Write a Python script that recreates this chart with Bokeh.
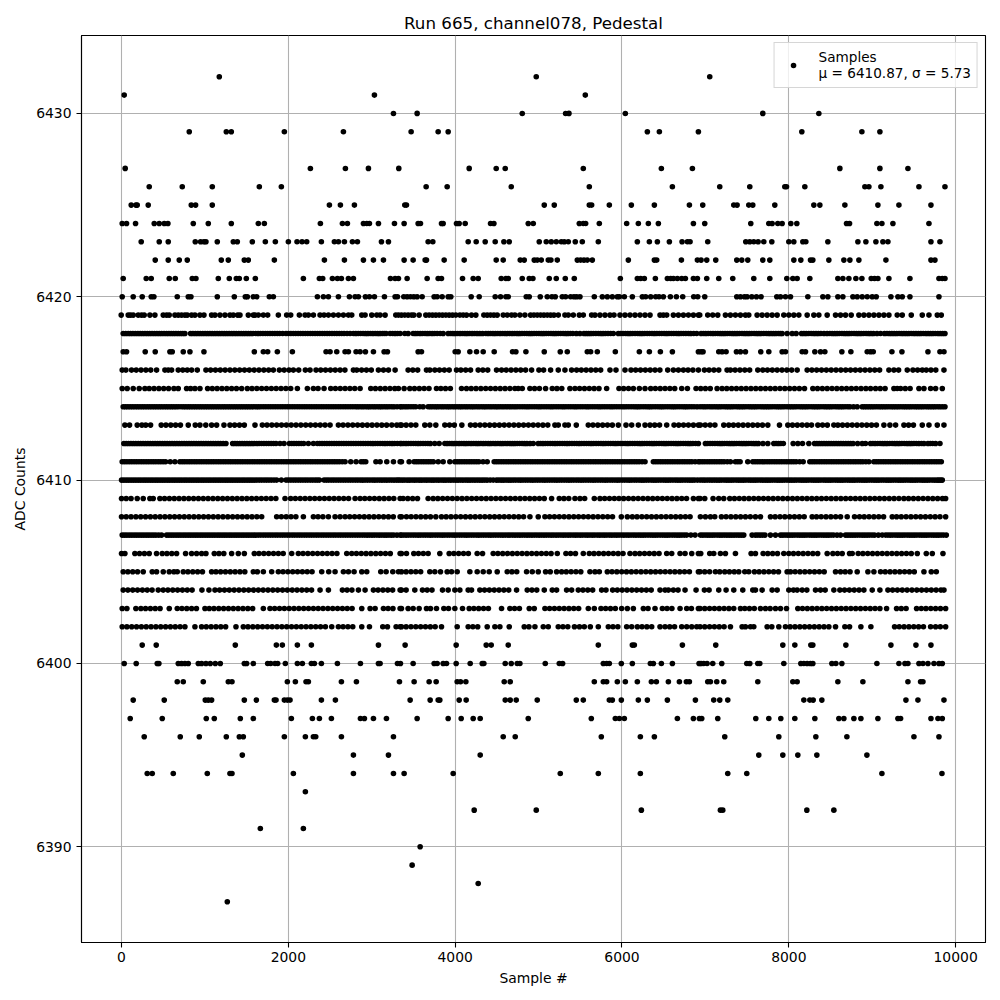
from bokeh.plotting import figure
from bokeh.embed import file_html
from bokeh.resources import INLINE
from bokeh.models import FixedTicker, Legend, LegendItem, ColumnDataSource, Range1d

s6432 = [1172, 4972, 7052]
s6431 = [32, 3032, 5560]
s6430 = [3260, 3544, 4804, 5324, 5364, 6040, 7688, 8360]
s6429 = [812, 1256, 1316, 1952, 2660, 3472, 3796, 3916, 6304, 6448, 6916, 8156, 8876, 9092]
s6427 = [44, 2264, 2684, 2960, 3324, 4168, 4492, 4600, 5536, 6472, 6844, 8612, 9092, 9428]
s6426 = [332, 728, 1088, 1652, 1916, 3652, 3904, 4672, 5608, 6604, 7172, 7532, 7952, 7972, 8192, 8912, 8960, 9104, 9560, 9872]
s6425 = [116, 172, 188, 320, 836, 888, 1088, 2492, 2624, 2792, 3396, 3416, 5068, 5188, 5608, 5636, 5848, 6112, 6388, 6808, 6968, 7340, 7380, 7520, 7568, 7832, 8300, 8372, 8672, 9068, 9320, 9704]
s6424 = [8, 60, 168, 392, 452, 512, 556, 860, 1040, 1316, 1640, 1712, 2384, 2648, 2708, 2900, 2940, 2972, 3080, 3272, 3388, 3556, 3584, 3836, 3856, 4016, 4048, 4120, 4424, 4464, 4876, 4936, 5488, 5536, 5564, 5728, 6056, 6196, 6316, 6436, 6856, 6992, 7544, 7760, 7800, 7868, 7920, 8024, 8096, 8692, 8728, 9056, 9116, 9248, 9680]
s6423 = [236, 452, 560, 884, 948, 988, 1012, 1148, 1340, 1388, 1568, 1724, 1844, 2000, 2104, 2164, 2220, 2396, 2552, 2600, 2672, 2768, 2828, 3116, 3200, 3676, 3732, 4156, 4252, 4360, 4480, 4584, 4648, 5008, 5092, 5152, 5212, 5272, 5308, 5356, 5440, 5524, 5716, 6184, 6328, 6424, 6568, 6720, 6784, 6816, 7028, 7484, 7532, 7580, 7632, 7700, 7796, 8000, 8060, 8168, 8204, 8468, 8828, 8924, 9044, 9128, 9188, 9704, 9812]
s6422 = [404, 560, 692, 788, 1196, 1280, 1472, 1520, 1832, 2432, 2672, 2900, 3020, 3140, 3388, 3496, 3640, 3656, 3868, 4108, 4492, 4576, 4780, 4828, 4948, 4984, 5032, 5116, 5148, 5224, 5464, 5504, 5544, 5584, 5644, 6076, 6388, 6416, 6712, 6904, 6948, 7016, 7124, 7376, 7436, 7508, 7688, 7772, 8060, 8144, 8260, 8288, 8480, 8660, 8732, 8840, 9164, 9704, 9752]
s6421 = [20, 296, 356, 572, 644, 848, 892, 1160, 1292, 1376, 1412, 1496, 1604, 2180, 2372, 2412, 2528, 2588, 2636, 2720, 2780, 3224, 3280, 3320, 3424, 3664, 3796, 3836, 4088, 4216, 4276, 4552, 4608, 4636, 4804, 4888, 4932, 5128, 5212, 5320, 5428, 5980, 6184, 6224, 6268, 6400, 6544, 6584, 6616, 6664, 6716, 6760, 6856, 6904, 7016, 7160, 7328, 7580, 7772, 7976, 8048, 8100, 8252, 8588, 8648, 8720, 8804, 8876, 8988, 9028, 9068, 9200, 9452, 9800, 9840, 9872]
s6420 = [8, 140, 248, 356, 388, 668, 800, 832, 1148, 1352, 1484, 1508, 1580, 1620, 1772, 1820, 2348, 2420, 2480, 2600, 2732, 2800, 2840, 2924, 2972, 3032, 3152, 3280, 3308, 3384, 3424, 3464, 3504, 3544, 3604, 3748, 3784, 3844, 3916, 3948, 4192, 4288, 4480, 4544, 4608, 4636, 4852, 4888, 5020, 5104, 5160, 5200, 5284, 5324, 5384, 5424, 5456, 5496, 5668, 5764, 5824, 5884, 5944, 5968, 6028, 6124, 6244, 6284, 6344, 6404, 6444, 6496, 6580, 6652, 6728, 6860, 6908, 6992, 7376, 7420, 7468, 7500, 7556, 7612, 7668, 7856, 7900, 7960, 8020, 8228, 8408, 8468, 8588, 8648, 8768, 8820, 8880, 8940, 9000, 9048, 9224, 9308, 9360, 9452, 9800]
s6419 = [-4, 80, 108, 140, 200, 240, 272, 340, 400, 500, 540, 572, 640, 680, 720, 760, 788, 840, 880, 940, 988, 1080, 1120, 1180, 1240, 1300, 1340, 1392, 1420, 1520, 1580, 1600, 1640, 1700, 1752, 1880, 1980, 2028, 2132, 2200, 2240, 2300, 2380, 2428, 2480, 2540, 2600, 2660, 2720, 2760, 2880, 2920, 3000, 3060, 3100, 3160, 3288, 3320, 3356, 3396, 3436, 3476, 3504, 3568, 3648, 3688, 3728, 3768, 3808, 3848, 3888, 3928, 3968, 4008, 4056, 4096, 4136, 4196, 4248, 4344, 4384, 4424, 4464, 4504, 4576, 4624, 4676, 4716, 4776, 4836, 4904, 4944, 4984, 5024, 5064, 5104, 5144, 5184, 5236, 5316, 5356, 5416, 5488, 5536, 5636, 5676, 5736, 5796, 5856, 5904, 5976, 6036, 6096, 6156, 6216, 6276, 6336, 6456, 6496, 6536, 6616, 6676, 6736, 6796, 6856, 6916, 6932, 7028, 7088, 7148, 7240, 7300, 7360, 7420, 7480, 7520, 7620, 7680, 7740, 7800, 7860, 7940, 8000, 8060, 8120, 8220, 8300, 8360, 8460, 8560, 8620, 8680, 8748, 8840, 8900, 8960, 9020, 9080, 9140, 9200, 9300, 9360, 9468, 9600, 9680, 9780, 9828]
s6418 = [20, 80, 136, 196, 252, 310, 366, 424, 480, 540, 596, 652, 710, 760, 828, 886, 944, 1002, 1060, 1088, 1146, 1204, 1260, 1320, 1376, 1436, 1492, 1550, 1608, 1666, 1724, 1780, 1838, 1896, 1932, 1972, 2030, 2088, 2146, 2204, 2262, 2320, 2378, 2436, 2494, 2552, 2610, 2668, 2740, 2780, 2838, 2896, 2954, 3012, 3070, 3128, 3172, 3220, 3280, 3340, 3396, 3436, 3496, 3552, 3610, 3668, 3726, 3784, 3856, 3916, 3972, 4030, 4088, 4146, 4204, 4262, 4328, 4368, 4424, 4482, 4540, 4598, 4656, 4714, 4772, 4830, 4888, 4946, 5004, 5062, 5120, 5178, 5236, 5294, 5352, 5410, 5496, 5544, 5600, 5658, 5716, 5774, 5832, 5896, 5956, 6012, 6070, 6128, 6186, 6244, 6302, 6360, 6418, 6476, 6534, 6592, 6650, 6708, 6766, 6824, 6896, 6948, 7004, 7062, 7120, 7178, 7236, 7294, 7352, 7410, 7468, 7526, 7584, 7642, 7700, 7758, 7816, 7874, 7920, 7980, 8040, 8088, 8152, 8210, 8268, 8326, 8384, 8460, 8492, 8550, 8608, 8666, 8724, 8782, 8840, 8898, 8956, 9014, 9100, 9148, 9206, 9264, 9322, 9380, 9438, 9496, 9554, 9612, 9670, 9728, 9786, 9844, 9872]
e6418 = [50, 108, 166, 224, 281, 338, 395, 452, 510, 568, 624, 681, 735, 856, 915, 973, 1031, 1117, 1175, 1232, 1290, 1348, 1406, 1464, 1521, 1579, 1637, 1695, 1752, 1809, 1867, 2001, 2059, 2117, 2175, 2233, 2291, 2349, 2407, 2465, 2523, 2581, 2639, 2704, 2809, 2867, 2925, 2983, 3041, 3099, 3150, 3250, 3310, 3524, 3581, 3639, 3697, 3755, 3820, 3944, 4001, 4059, 4117, 4175, 4233, 4295, 4396, 4453, 4511, 4569, 4627, 4685, 4743, 4801, 4859, 4917, 4975, 5033, 5091, 5149, 5207, 5265, 5323, 5381, 5453, 5572, 5629, 5687, 5745, 5803, 5864, 5984, 6041, 6099, 6157, 6215, 6273, 6331, 6389, 6447, 6505, 6563, 6621, 6679, 6737, 6795, 6860, 6976, 7033, 7091, 7149, 7207, 7265, 7323, 7381, 7439, 7497, 7555, 7613, 7671, 7729, 7787, 7845, 7897, 8181, 8239, 8297, 8355, 8422, 8521, 8579, 8637, 8695, 8753, 8811, 8869, 8927, 8985, 9057, 9177, 9235, 9293, 9351, 9409, 9467, 9525, 9583, 9641, 9699, 9757, 9815]
s6417 = [20, 60, 284, 404, 580, 608, 740, 820, 988, 1592, 1700, 1752, 1868, 2048, 2452, 2500, 2580, 2680, 2720, 2812, 2860, 2924, 3020, 3148, 3188, 3556, 3596, 4000, 4036, 4176, 4256, 4336, 4468, 4688, 4728, 4848, 5068, 5260, 5344, 5584, 5624, 5704, 5920, 6208, 6328, 6460, 6604, 6916, 6948, 6972, 7160, 7200, 7248, 7372, 7420, 7480, 7664, 7760, 7920, 7960, 8160, 8200, 8312, 8380, 8432, 8636, 8744, 8940, 8980, 9012, 9236, 9356, 9668, 9812, 9860]
s6416 = [8, 52, 120, 176, 234, 292, 350, 420, 520, 560, 600, 680, 734, 788, 840, 908, 1012, 1068, 1126, 1184, 1242, 1300, 1358, 1416, 1474, 1532, 1590, 1648, 1706, 1764, 1820, 1892, 1950, 2008, 2060, 2124, 2204, 2260, 2332, 2388, 2446, 2504, 2562, 2620, 2678, 2780, 2820, 2878, 2936, 2994, 3080, 3140, 3200, 3280, 3436, 3492, 3550, 3656, 3696, 3756, 3812, 3870, 3928, 4016, 4068, 4126, 4184, 4276, 4332, 4390, 4496, 4556, 4612, 4670, 4728, 4786, 4844, 4916, 5004, 5060, 5144, 5236, 5316, 5396, 5456, 5512, 5570, 5628, 5686, 5744, 5856, 5928, 6036, 6108, 6164, 6222, 6280, 6338, 6396, 6454, 6548, 6616, 6676, 6736, 6792, 6850, 6916, 6988, 7044, 7102, 7160, 7260, 7300, 7356, 7414, 7472, 7530, 7628, 7688, 7744, 7802, 7860, 7918, 7976, 8034, 8100, 8220, 8276, 8334, 8392, 8450, 8508, 8566, 8624, 8682, 8740, 8798, 8856, 8914, 8972, 9030, 9088, 9200, 9260, 9316, 9420, 9488, 9544, 9600, 9648, 9704, 9762, 9860]
s6415 = [8, 68, 140, 212, 280, 332, 390, 448, 506, 564, 628, 680, 780, 828, 880, 940, 1032, 1088, 1146, 1204, 1262, 1320, 1378, 1440, 1508, 1564, 1622, 1680, 1738, 1796, 1854, 1912, 1970, 2028, 2108, 2228, 2300, 2356, 2428, 2508, 2564, 2622, 2680, 2738, 2796, 2860, 2988, 3044, 3102, 3160, 3218, 3276, 3320, 3388, 3456, 3512, 3570, 3628, 3686, 3776, 3828, 3884, 3942, 4076, 4136, 4192, 4250, 4308, 4366, 4424, 4482, 4540, 4598, 4656, 4716, 4756, 4804, 4896, 4952, 5010, 5084, 5164, 5220, 5278, 5376, 5436, 5492, 5550, 5608, 5666, 5724, 5816, 5964, 6020, 6078, 6136, 6208, 6276, 6344, 6400, 6458, 6516, 6574, 6632, 6716, 6784, 6888, 6944, 7000, 7058, 7140, 7200, 7256, 7314, 7372, 7430, 7488, 7546, 7604, 7662, 7720, 7778, 7836, 7894, 7952, 8010, 8068, 8126, 8188, 8288, 8344, 8402, 8460, 8518, 8576, 8634, 8692, 8750, 8808, 8866, 8924, 8980, 9040, 9096, 9154, 9260, 9300, 9340, 9396, 9454, 9560, 9620, 9700, 9760, 9840]
s6414 = [20, 76, 134, 192, 250, 308, 366, 424, 482, 540, 598, 656, 714, 772, 830, 888, 946, 1004, 1062, 1120, 1178, 1236, 1294, 1352, 1410, 1468, 1526, 1584, 1642, 1700, 1758, 1816, 1874, 1932, 1990, 2048, 2106, 2164, 2222, 2280, 2338, 2396, 2454, 2512, 2570, 2628, 2686, 2744, 2802, 2860, 2918, 2976, 3034, 3092, 3150, 3208, 3266, 3340, 3356, 3412, 3470, 3528, 3576, 3616, 3676, 3732, 3790, 3848, 3906, 3964, 4022, 4080, 4138, 4196, 4254, 4312, 4370, 4428, 4486, 4544, 4602, 4660, 4718, 4776, 4834, 4892, 4950, 5008, 5066, 5124, 5182, 5240, 5298, 5356, 5414, 5472, 5530, 5588, 5646, 5704, 5762, 5820, 5878, 5936, 5994, 6052, 6110, 6168, 6226, 6284, 6342, 6400, 6458, 6516, 6574, 6632, 6690, 6748, 6806, 6864, 6936, 6992, 7050, 7108, 7166, 7224, 7282, 7340, 7398, 7456, 7514, 7572, 7630, 7688, 7746, 7804, 7862, 7920, 7978, 8036, 8094, 8152, 8210, 8268, 8326, 8384, 8442, 8500, 8558, 8616, 8674, 8732, 8820, 8880, 8936, 8994, 9052, 9110, 9168, 9226, 9284, 9342, 9400, 9458, 9516, 9574, 9632, 9690, 9748, 9806, 9872]
e6414 = [48, 105, 163, 221, 279, 337, 395, 453, 511, 569, 627, 685, 743, 801, 859, 917, 975, 1033, 1091, 1149, 1207, 1265, 1323, 1381, 1439, 1497, 1555, 1613, 1671, 1729, 1787, 1845, 1903, 1961, 2019, 2077, 2135, 2193, 2251, 2309, 2367, 2425, 2483, 2541, 2599, 2657, 2715, 2773, 2831, 2889, 2947, 3005, 3063, 3121, 3179, 3237, 3303, 3384, 3441, 3499, 3704, 3761, 3819, 3877, 3935, 3993, 4051, 4109, 4167, 4225, 4283, 4341, 4399, 4457, 4515, 4573, 4631, 4689, 4747, 4805, 4863, 4921, 4979, 5037, 5095, 5153, 5211, 5269, 5327, 5385, 5443, 5501, 5559, 5617, 5675, 5733, 5791, 5849, 5907, 5965, 6023, 6081, 6139, 6197, 6255, 6313, 6371, 6429, 6487, 6545, 6603, 6661, 6719, 6777, 6835, 6900, 6964, 7021, 7079, 7137, 7195, 7253, 7311, 7369, 7427, 7485, 7543, 7601, 7659, 7717, 7775, 7833, 7891, 7949, 8007, 8065, 8123, 8181, 8239, 8297, 8355, 8413, 8471, 8529, 8587, 8645, 8703, 8776, 8908, 8965, 9023, 9081, 9139, 9197, 9255, 9313, 9371, 9429, 9487, 9545, 9603, 9661, 9719, 9777, 9839]
s6413 = [40, 96, 188, 244, 290, 348, 476, 532, 590, 648, 706, 800, 884, 940, 1010, 1080, 1140, 1228, 1300, 1356, 1414, 1472, 1600, 1688, 1744, 1802, 1860, 1918, 1976, 2034, 2092, 2150, 2208, 2266, 2324, 2382, 2440, 2500, 2600, 2656, 2714, 2772, 2830, 2888, 2946, 3004, 3062, 3120, 3178, 3240, 3300, 3340, 3356, 3412, 3470, 3528, 3636, 3696, 3768, 3876, 3932, 3990, 4080, 4184, 4240, 4298, 4356, 4414, 4472, 4530, 4588, 4646, 4704, 4762, 4820, 4878, 4936, 4994, 5052, 5110, 5196, 5236, 5316, 5356, 5452, 5596, 5652, 5710, 5768, 5826, 5884, 5956, 6048, 6116, 6196, 6276, 6336, 6392, 6450, 6536, 6624, 6680, 6738, 6796, 6856, 6916, 6940, 6998, 7056, 7114, 7220, 7280, 7336, 7394, 7452, 7510, 7568, 7626, 7684, 7748, 7888, 7988, 8044, 8102, 8160, 8218, 8272, 8348, 8404, 8462, 8540, 8588, 8644, 8702, 8760, 8818, 8876, 8934, 8992, 9050, 9140, 9212, 9280, 9380, 9436, 9494, 9600, 9680, 9780, 9860]
s6412 = [28, 84, 142, 200, 258, 316, 374, 432, 490, 548, 606, 664, 722, 780, 838, 896, 954, 1012, 1070, 1128, 1186, 1252, 1332, 1388, 1446, 1504, 1562, 1620, 1678, 1736, 1794, 1852, 1948, 2012, 2068, 2126, 2184, 2300, 2348, 2404, 2462, 2520, 2578, 2636, 2694, 2752, 2810, 2868, 2926, 2984, 3042, 3100, 3158, 3216, 3274, 3340, 3356, 3412, 3470, 3528, 3586, 3644, 3702, 3808, 3876, 3932, 3990, 4048, 4106, 4164, 4222, 4280, 4338, 4396, 4454, 4512, 4570, 4628, 4686, 4744, 4802, 4860, 4936, 4996, 5052, 5110, 5168, 5226, 5284, 5342, 5400, 5458, 5516, 5574, 5632, 5690, 5748, 5806, 5864, 5922, 5980, 6038, 6096, 6154, 6212, 6270, 6328, 6386, 6444, 6502, 6560, 6618, 6676, 6734, 6792, 6850, 6916, 7000, 7056, 7114, 7172, 7230, 7288, 7346, 7404, 7462, 7520, 7578, 7636, 7748, 7820, 7876, 7934, 8052, 8108, 8164, 8240, 8308, 8364, 8422, 8480, 8538, 8596, 8654, 8712, 8770, 8880, 8920, 8980, 9036, 9094, 9152, 9210, 9268, 9326, 9384, 9442, 9500, 9558, 9620, 9668, 9724, 9760, 9812]
e6412 = [56, 113, 171, 229, 287, 345, 403, 461, 519, 577, 635, 693, 751, 809, 867, 925, 983, 1041, 1099, 1157, 1219, 1360, 1417, 1475, 1533, 1591, 1649, 1707, 1765, 1823, 1900, 2040, 2097, 2155, 2240, 2376, 2433, 2491, 2549, 2607, 2665, 2723, 2781, 2839, 2897, 2955, 3013, 3071, 3129, 3187, 3245, 3307, 3384, 3441, 3499, 3557, 3615, 3673, 3755, 3904, 3961, 4019, 4077, 4135, 4193, 4251, 4309, 4367, 4425, 4483, 4541, 4599, 4657, 4715, 4773, 4831, 4898, 5024, 5081, 5139, 5197, 5255, 5313, 5371, 5429, 5487, 5545, 5603, 5661, 5719, 5777, 5835, 5893, 5951, 6009, 6067, 6125, 6183, 6241, 6299, 6357, 6415, 6473, 6531, 6589, 6647, 6705, 6763, 6821, 6883, 7028, 7085, 7143, 7201, 7259, 7317, 7375, 7433, 7491, 7549, 7607, 7690, 7848, 7905, 8336, 8393, 8451, 8509, 8567, 8625, 8683, 8741, 8825, 9008, 9065, 9123, 9181, 9239, 9297, 9355, 9413, 9471, 9529, 9590, 9696]
s6411 = [8, 64, 122, 180, 238, 296, 354, 412, 470, 528, 640, 700, 756, 814, 872, 930, 988, 1046, 1104, 1162, 1220, 1278, 1336, 1394, 1452, 1510, 1568, 1626, 1684, 1742, 1800, 1858, 1916, 1974, 2032, 2090, 2148, 2206, 2264, 2322, 2380, 2438, 2496, 2554, 2612, 2680, 2748, 2812, 2872, 2928, 3100, 3180, 3260, 3340, 3356, 3448, 3508, 3564, 3622, 3680, 3738, 3856, 3936, 3996, 4052, 4110, 4168, 4226, 4284, 4384, 4468, 4524, 4582, 4640, 4698, 4756, 4814, 4872, 4930, 4988, 5046, 5104, 5162, 5220, 5278, 5336, 5394, 5452, 5510, 5568, 5626, 5684, 5742, 5800, 5858, 5916, 5974, 6032, 6090, 6148, 6206, 6276, 6376, 6432, 6490, 6548, 6606, 6664, 6722, 6780, 6838, 6916, 6936, 6992, 7050, 7108, 7166, 7224, 7300, 7360, 7416, 7508, 7568, 7624, 7682, 7740, 7798, 7856, 7914, 7972, 8030, 8088, 8172, 8252, 8308, 8366, 8424, 8482, 8540, 8598, 8656, 8714, 8772, 8830, 8888, 8960, 9020, 9076, 9134, 9192, 9250, 9308, 9366, 9424, 9482, 9540, 9598, 9656, 9714, 9772, 9828]
e6411 = [36, 93, 151, 209, 267, 325, 383, 441, 499, 584, 728, 785, 843, 901, 959, 1017, 1075, 1133, 1191, 1249, 1307, 1365, 1423, 1481, 1539, 1597, 1655, 1713, 1771, 1829, 1887, 1945, 2003, 2061, 2119, 2177, 2235, 2293, 2351, 2409, 2467, 2525, 2583, 2646, 2900, 3050, 3536, 3593, 3651, 3709, 3797, 4024, 4081, 4139, 4197, 4255, 4334, 4496, 4553, 4611, 4669, 4727, 4785, 4843, 4901, 4959, 5017, 5075, 5133, 5191, 5249, 5307, 5365, 5423, 5481, 5539, 5597, 5655, 5713, 5771, 5829, 5887, 5945, 6003, 6061, 6119, 6177, 6241, 6404, 6461, 6519, 6577, 6635, 6693, 6751, 6809, 6877, 6964, 7021, 7079, 7137, 7195, 7262, 7388, 7596, 7653, 7711, 7769, 7827, 7885, 7943, 8001, 8059, 8130, 8280, 8337, 8395, 8453, 8511, 8569, 8627, 8685, 8743, 8801, 8859, 8924, 9048, 9105, 9163, 9221, 9279, 9337, 9395, 9453, 9511, 9569, 9627, 9685, 9743, 9800]
s6410 = [0, 56, 114, 172, 230, 288, 346, 404, 462, 520, 578, 636, 694, 752, 810, 868, 926, 984, 1042, 1100, 1158, 1216, 1274, 1332, 1390, 1448, 1506, 1564, 1622, 1680, 1738, 1796, 1860, 1916, 1972, 2030, 2088, 2146, 2204, 2262, 2320, 2372, 2428, 2484, 2542, 2600, 2658, 2716, 2774, 2832, 2890, 2948, 3006, 3064, 3122, 3180, 3238, 3296, 3340, 3396, 3454, 3512, 3570, 3628, 3686, 3744, 3802, 3860, 3918, 3976, 4034, 4092, 4150, 4208, 4266, 4324, 4382, 4456, 4496, 4552, 4610, 4668, 4726, 4784, 4842, 4900, 4958, 5016, 5074, 5132, 5190, 5248, 5306, 5364, 5422, 5480, 5538, 5596, 5654, 5712, 5770, 5828, 5886, 5944, 6002, 6060, 6118, 6176, 6234, 6292, 6350, 6408, 6466, 6524, 6582, 6640, 6698, 6756, 6814, 6872, 6936, 6992, 7050, 7108, 7166, 7224, 7282, 7340, 7398, 7456, 7514, 7572, 7630, 7688, 7746, 7804, 7862, 7920, 7978, 8036, 8094, 8152, 8210, 8268, 8326, 8384, 8442, 8500, 8558, 8616, 8674, 8732, 8790, 8848, 8906, 8964, 9022, 9080, 9138, 9196, 9254, 9312, 9370, 9428, 9486, 9544, 9602, 9660, 9718, 9776, 9820, 9840]
e6410 = [28, 85, 143, 201, 259, 317, 375, 433, 491, 549, 607, 665, 723, 781, 839, 897, 955, 1013, 1071, 1129, 1187, 1245, 1303, 1361, 1419, 1477, 1535, 1593, 1651, 1709, 1767, 1828, 2001, 2059, 2117, 2175, 2233, 2291, 2346, 2456, 2513, 2571, 2629, 2687, 2745, 2803, 2861, 2919, 2977, 3035, 3093, 3151, 3209, 3267, 3318, 3368, 3425, 3483, 3541, 3599, 3657, 3715, 3773, 3831, 3889, 3947, 4005, 4063, 4121, 4179, 4237, 4295, 4353, 4419, 4524, 4581, 4639, 4697, 4755, 4813, 4871, 4929, 4987, 5045, 5103, 5161, 5219, 5277, 5335, 5393, 5451, 5509, 5567, 5625, 5683, 5741, 5799, 5857, 5915, 5973, 6031, 6089, 6147, 6205, 6263, 6321, 6379, 6437, 6495, 6553, 6611, 6669, 6727, 6785, 6843, 6904, 6964, 7021, 7079, 7137, 7195, 7253, 7311, 7369, 7427, 7485, 7543, 7601, 7659, 7717, 7775, 7833, 7891, 7949, 8007, 8065, 8123, 8181, 8239, 8297, 8355, 8413, 8471, 8529, 8587, 8645, 8703, 8761, 8819, 8877, 8935, 8993, 9051, 9109, 9167, 9225, 9283, 9341, 9399, 9457, 9515, 9573, 9631, 9689, 9747, 9798]
s6409 = [0, 56, 114, 188, 260, 340, 380, 460, 516, 574, 632, 690, 748, 806, 864, 922, 980, 1038, 1096, 1154, 1212, 1270, 1328, 1386, 1444, 1502, 1560, 1618, 1676, 1734, 1792, 1850, 1960, 2028, 2084, 2142, 2200, 2258, 2316, 2374, 2432, 2490, 2548, 2606, 2664, 2722, 2800, 2860, 2916, 2974, 3032, 3090, 3148, 3206, 3264, 3340, 3376, 3432, 3490, 3548, 3676, 3736, 3792, 3850, 3908, 3966, 4024, 4082, 4140, 4198, 4256, 4314, 4372, 4430, 4488, 4546, 4604, 4662, 4720, 4778, 4836, 4894, 4952, 5010, 5068, 5156, 5248, 5304, 5362, 5436, 5496, 5552, 5668, 5736, 5792, 5850, 5908, 5964, 6020, 6078, 6136, 6194, 6252, 6310, 6368, 6426, 6484, 6542, 6600, 6658, 6716, 6774, 6856, 6916, 6936, 6992, 7092, 7160, 7220, 7292, 7348, 7406, 7464, 7522, 7580, 7638, 7696, 7754, 7812, 7870, 7928, 7986, 8044, 8102, 8160, 8218, 8276, 8334, 8392, 8450, 8508, 8566, 8624, 8682, 8740, 8798, 8856, 8914, 8972, 9030, 9088, 9146, 9204, 9262, 9320, 9380, 9436, 9494, 9552, 9610, 9668, 9726, 9784, 9842, 9880]
s6408 = [0, 56, 114, 172, 230, 288, 346, 404, 462, 520, 578, 636, 694, 752, 810, 868, 926, 984, 1042, 1100, 1158, 1216, 1274, 1332, 1390, 1448, 1506, 1564, 1622, 1680, 1860, 1916, 1974, 2032, 2090, 2180, 2300, 2356, 2414, 2480, 2560, 2620, 2680, 2736, 2794, 2852, 2910, 2968, 3026, 3084, 3142, 3200, 3258, 3340, 3356, 3416, 3472, 3530, 3588, 3646, 3704, 3768, 3836, 3892, 3950, 4008, 4066, 4124, 4182, 4240, 4298, 4356, 4414, 4472, 4530, 4588, 4646, 4704, 4762, 4820, 4896, 4996, 5076, 5132, 5190, 5248, 5306, 5364, 5422, 5480, 5538, 5596, 5654, 5712, 5770, 5828, 5886, 5992, 6064, 6124, 6180, 6238, 6296, 6354, 6412, 6470, 6528, 6586, 6644, 6702, 6760, 6816, 6940, 7000, 7060, 7112, 7192, 7248, 7306, 7364, 7422, 7480, 7538, 7600, 7660, 7780, 7836, 7894, 7952, 8010, 8068, 8126, 8184, 8280, 8332, 8388, 8446, 8504, 8562, 8620, 8700, 8788, 8848, 8904, 8962, 9020, 9078, 9136, 9240, 9292, 9348, 9406, 9464, 9522, 9580, 9638, 9696, 9754, 9812, 9880]
s6407 = [8, 64, 122, 180, 238, 296, 354, 412, 480, 540, 596, 654, 712, 770, 828, 886, 944, 1002, 1060, 1118, 1176, 1234, 1292, 1350, 1408, 1466, 1524, 1582, 1640, 1698, 1756, 1814, 1872, 1930, 1988, 2046, 2104, 2162, 2220, 2278, 2336, 2394, 2452, 2510, 2568, 2626, 2684, 2742, 2800, 2858, 2916, 2974, 3032, 3090, 3148, 3206, 3264, 3340, 3356, 3412, 3470, 3528, 3586, 3644, 3702, 3760, 3818, 3876, 3934, 3992, 4050, 4108, 4166, 4224, 4282, 4340, 4398, 4456, 4514, 4572, 4630, 4688, 4746, 4804, 4862, 4920, 4978, 5036, 5094, 5152, 5210, 5268, 5326, 5384, 5442, 5500, 5558, 5616, 5674, 5732, 5790, 5848, 5906, 5964, 6022, 6080, 6138, 6196, 6254, 6312, 6370, 6428, 6486, 6544, 6602, 6660, 6718, 6776, 6876, 6940, 6996, 7054, 7112, 7170, 7228, 7286, 7344, 7402, 7460, 7560, 7600, 7656, 7714, 7780, 7840, 7900, 7956, 8014, 8072, 8130, 8188, 8246, 8304, 8362, 8420, 8478, 8536, 8620, 8680, 8736, 8794, 8852, 8910, 8968, 9026, 9120, 9160, 9216, 9274, 9332, 9390, 9448, 9506, 9564, 9622, 9680, 9738, 9796, 9854, 9888]
e6407 = [36, 93, 151, 209, 267, 325, 383, 446, 568, 625, 683, 741, 799, 857, 915, 973, 1031, 1089, 1147, 1205, 1263, 1321, 1379, 1437, 1495, 1553, 1611, 1669, 1727, 1785, 1843, 1901, 1959, 2017, 2075, 2133, 2191, 2249, 2307, 2365, 2423, 2481, 2539, 2597, 2655, 2713, 2771, 2829, 2887, 2945, 3003, 3061, 3119, 3177, 3235, 3302, 3384, 3441, 3499, 3557, 3615, 3673, 3731, 3789, 3847, 3905, 3963, 4021, 4079, 4137, 4195, 4253, 4311, 4369, 4427, 4485, 4543, 4601, 4659, 4717, 4775, 4833, 4891, 4949, 5007, 5065, 5123, 5181, 5239, 5297, 5355, 5413, 5471, 5529, 5587, 5645, 5703, 5761, 5819, 5877, 5935, 5993, 6051, 6109, 6167, 6225, 6283, 6341, 6399, 6457, 6515, 6573, 6631, 6689, 6747, 6826, 6968, 7025, 7083, 7141, 7199, 7257, 7315, 7373, 7431, 7628, 7685, 7928, 7985, 8043, 8101, 8159, 8217, 8275, 8333, 8391, 8449, 8507, 8578, 8708, 8765, 8823, 8881, 8939, 8997, 9073, 9188, 9245, 9303, 9361, 9419, 9477, 9535, 9593, 9651, 9709, 9767, 9825]
s6406 = [0, 40, 160, 216, 274, 332, 420, 488, 544, 602, 660, 768, 840, 900, 960, 1012, 1112, 1168, 1226, 1320, 1400, 1472, 1592, 1648, 1706, 1764, 1822, 1880, 1938, 2040, 2120, 2176, 2234, 2292, 2350, 2408, 2466, 2524, 2582, 2700, 2760, 2816, 2874, 2932, 2990, 3048, 3106, 3164, 3222, 3340, 3356, 3416, 3504, 3560, 3618, 3676, 3816, 3928, 3984, 4042, 4100, 4158, 4264, 4328, 4456, 4512, 4570, 4628, 4686, 4744, 4802, 4860, 4918, 4976, 5034, 5092, 5150, 5224, 5328, 5384, 5442, 5536, 5608, 5664, 5722, 5780, 5838, 5896, 5954, 6012, 6096, 6156, 6212, 6270, 6328, 6386, 6444, 6536, 6596, 6696, 6756, 6836, 6916, 6944, 7052, 7100, 7180, 7240, 7360, 7548, 7600, 7692, 7748, 7806, 7864, 7940, 8000, 8056, 8114, 8172, 8230, 8288, 8346, 8460, 8528, 8584, 8640, 8728, 8760, 8832, 8888, 8946, 9004, 9062, 9120, 9178, 9236, 9294, 9352, 9410, 9468, 9540, 9648, 9720, 9848]
s6405 = [20, 76, 134, 192, 260, 368, 420, 500, 572, 628, 668, 740, 796, 854, 912, 970, 1080, 1132, 1188, 1246, 1304, 1362, 1420, 1478, 1580, 1628, 1700, 1800, 1880, 1936, 1994, 2052, 2110, 2168, 2226, 2284, 2400, 2484, 2560, 2660, 2720, 2788, 2880, 2940, 3108, 3172, 3252, 3320, 3356, 3412, 3470, 3528, 3586, 3696, 3756, 3824, 3904, 3956, 4024, 4176, 4264, 4336, 4408, 4504, 4624, 4680, 4738, 4856, 4924, 4996, 5084, 5140, 5216, 5276, 5332, 5390, 5448, 5506, 5616, 5676, 5728, 5824, 5880, 5938, 5996, 6054, 6112, 6170, 6228, 6286, 6344, 6402, 6460, 6518, 6576, 6634, 6692, 6750, 6808, 6916, 6936, 6992, 7050, 7120, 7172, 7232, 7288, 7346, 7400, 7472, 7520, 7588, 7644, 7702, 7760, 7818, 7876, 7980, 8020, 8076, 8134, 8192, 8250, 8308, 8366, 8424, 8560, 8620, 8676, 8734, 8820, 8948, 9020, 9100, 9156, 9214, 9272, 9330, 9388, 9446, 9504, 9620, 9708, 9768]
s6404 = [20, 76, 134, 192, 250, 308, 366, 440, 500, 556, 614, 672, 730, 788, 846, 964, 1048, 1120, 1176, 1234, 1292, 1350, 1408, 1466, 1524, 1582, 1640, 1698, 1756, 1814, 1872, 1930, 1988, 2046, 2104, 2162, 2220, 2278, 2380, 2480, 2648, 2704, 2762, 2840, 2920, 3020, 3076, 3134, 3192, 3250, 3340, 3356, 3412, 3516, 3608, 3664, 3722, 3848, 3916, 3996, 4056, 4156, 4196, 4296, 4352, 4410, 4468, 4526, 4584, 4642, 4736, 4864, 4920, 4978, 5068, 5164, 5216, 5336, 5396, 5476, 5532, 5590, 5648, 5756, 5808, 5888, 5944, 6002, 6060, 6118, 6176, 6234, 6292, 6350, 6456, 6516, 6556, 6616, 6672, 6756, 6888, 6988, 7044, 7160, 7248, 7340, 7448, 7568, 7600, 7680, 7800, 7860, 8000, 8056, 8100, 8160, 8216, 8320, 8380, 8436, 8540, 8612, 8668, 8726, 8784, 8842, 8900, 9000, 9092, 9188, 9244, 9302, 9360, 9418, 9476, 9534, 9592, 9650, 9708, 9766, 9824, 9860]
s6403 = [8, 64, 172, 232, 288, 346, 404, 462, 572, 668, 724, 782, 840, 898, 1000, 1052, 1108, 1166, 1224, 1282, 1340, 1398, 1456, 1514, 1572, 1700, 1780, 1836, 1894, 1952, 2010, 2068, 2126, 2184, 2242, 2300, 2358, 2416, 2474, 2532, 2590, 2648, 2706, 2764, 2880, 2980, 3040, 3140, 3196, 3254, 3340, 3356, 3436, 3496, 3568, 3656, 3704, 3776, 3864, 3920, 3996, 4088, 4168, 4224, 4282, 4340, 4398, 4556, 4656, 4712, 4770, 4888, 4948, 5076, 5132, 5190, 5248, 5306, 5364, 5422, 5480, 5596, 5668, 5748, 5804, 5862, 5920, 5996, 6064, 6136, 6256, 6312, 6396, 6484, 6540, 6598, 6696, 6776, 6832, 6916, 6936, 6992, 7050, 7108, 7166, 7224, 7282, 7340, 7420, 7472, 7528, 7586, 7660, 7720, 7776, 7840, 7900, 7972, 8108, 8164, 8222, 8280, 8338, 8396, 8454, 8512, 8570, 8628, 8686, 8744, 8802, 8860, 8918, 8976, 9034, 9092, 9172, 9292, 9348, 9406, 9532, 9588, 9644, 9702, 9760, 9818, 9880]
s6402 = [8, 64, 122, 180, 238, 296, 354, 412, 470, 528, 586, 644, 702, 760, 880, 960, 1016, 1074, 1132, 1190, 1248, 1372, 1460, 1516, 1574, 1632, 1690, 1748, 1806, 1864, 1922, 1980, 2038, 2096, 2154, 2212, 2270, 2328, 2386, 2444, 2520, 2600, 2656, 2714, 2772, 2880, 2972, 3132, 3188, 3292, 3340, 3356, 3412, 3470, 3528, 3586, 3644, 3702, 3760, 3836, 4024, 4156, 4212, 4270, 4384, 4476, 4536, 4648, 4828, 4884, 4956, 5056, 5116, 5236, 5292, 5350, 5430, 5490, 5548, 5620, 5716, 5836, 5892, 5950, 6056, 6116, 6184, 6240, 6298, 6356, 6456, 6516, 6572, 6630, 6716, 6776, 6836, 6896, 6936, 6992, 7050, 7108, 7166, 7224, 7300, 7440, 7480, 7540, 7580, 7740, 7796, 7880, 7960, 8016, 8074, 8132, 8190, 8248, 8306, 8364, 8422, 8480, 8560, 8672, 8728, 8864, 8984, 9268, 9324, 9382, 9440, 9498, 9556, 9614, 9700, 9760, 9816, 9880]
s6401 = [248, 416, 1364, 1856, 1928, 2108, 2276, 3080, 3400, 4012, 4372, 4432, 4636, 5716, 6124, 6148, 6724, 7124, 7928, 8072, 8264, 8288, 8684, 9224, 9524, 9704]
s6400 = [32, 176, 428, 448, 680, 720, 760, 800, 920, 960, 1012, 1064, 1124, 1184, 1472, 1500, 1580, 1752, 1788, 1840, 1872, 1964, 2108, 2168, 2276, 2312, 2396, 2588, 2864, 3080, 3100, 3308, 3344, 3496, 3748, 3784, 3856, 3896, 4012, 4180, 4324, 4344, 4600, 4672, 4744, 4776, 5080, 5248, 5288, 5776, 5816, 5848, 5992, 6124, 6340, 6376, 6472, 6604, 6924, 6948, 6980, 7020, 7088, 7196, 7496, 7532, 7628, 7652, 7940, 8144, 8180, 8220, 8260, 8288, 8516, 8564, 8636, 9056, 9320, 9392, 9428, 9560, 9608, 9668, 9740, 9800, 9840]
s6399 = [668, 740, 980, 1280, 1324, 1988, 2084, 2212, 2240, 2636, 2816, 3332, 3508, 3688, 3772, 4024, 4064, 4128, 4588, 4660, 5668, 5776, 5816, 5944, 6040, 6184, 6352, 6412, 6556, 6688, 6772, 6808, 7028, 7060, 7136, 7220, 7628, 8048, 8100, 8588, 8888, 9428, 9580, 9608]
s6398 = [140, 512, 1004, 1040, 1080, 1472, 1616, 1832, 1852, 1952, 1988, 2020, 2396, 2564, 3460, 3700, 3796, 3816, 4048, 4132, 4600, 4660, 4732, 4984, 5452, 5536, 5848, 5884, 5992, 6196, 6304, 6544, 6880, 7100, 7172, 7268, 8180, 8252, 8292, 8396, 9404, 9548, 9860]
s6397 = [104, 488, 1016, 1112, 1424, 1580, 2036, 2288, 2372, 2516, 2864, 2912, 3020, 3176, 3544, 3916, 4072, 4216, 4300, 4876, 5632, 5920, 5968, 6028, 6664, 6856, 6928, 6956, 7148, 7604, 7760, 7904, 8072, 8312, 8600, 8660, 8780, 8864, 9068, 9308, 9340, 9704, 9788, 9840]
s6396 = [272, 704, 932, 1256, 1412, 1460, 1952, 2204, 2300, 2328, 2636, 3260, 4576, 4720, 5752, 6220, 6388, 7232, 7880, 8324, 8696, 9500, 9800]
s6395 = [1448, 2780, 3200, 4300, 7640, 7928, 8108, 8336, 8936]
s6394 = [308, 368, 620, 1028, 1300, 1324, 2060, 2780, 3260, 3388, 3976, 5260, 5716, 6220, 7268, 7496, 9116, 9836]
s6393 = [2204]
s6392 = [4228, 4972, 6232, 7180, 7208, 8216, 8540]
s6391 = [1664, 2180]
s6390 = [3580]
s6389 = [3484]
s6388 = [4276]
s6387 = [1268]

levels = [6432, 6431, 6430, 6429, 6427, 6426, 6425, 6424, 6423, 6422, 6421, 6420, 6419, 6418, 6418, 6417, 6416, 6415, 6414, 6414, 6413, 6412, 6412, 6411, 6411, 6410, 6410, 6409, 6408, 6407, 6407, 6406, 6405, 6404, 6403, 6402, 6401, 6400, 6399, 6398, 6397, 6396, 6395, 6394, 6393, 6392, 6391, 6390, 6389, 6388, 6387]
rows = [s6432, s6431, s6430, s6429, s6427, s6426, s6425, s6424, s6423, s6422, s6421, s6420, s6419, s6418, e6418, s6417, s6416, s6415, s6414, e6414, s6413, s6412, e6412, s6411, e6411, s6410, e6410, s6409, s6408, s6407, e6407, s6406, s6405, s6404, s6403, s6402, s6401, s6400, s6399, s6398, s6397, s6396, s6395, s6394, s6393, s6392, s6391, s6390, s6389, s6388, s6387]
x_ticks = [0, 2000, 4000, 6000, 8000, 10000]
y_ticks = [6390, 6400, 6410, 6420, 6430]

xs, ys = [], []
for lv, r in zip(levels, rows):
    xs.extend(r)
    ys.extend([lv] * len(r))
src = ColumnDataSource(dict(x=xs, y=ys))

FONT = "DejaVu Sans"
p = figure(width=992, height=992, output_backend="svg", toolbar_location=None,
           x_range=Range1d(-480, 10358), y_range=Range1d(6384.78, 6434.25),
           title="Run 665, channel078, Pedestal",
           frame_width=904, frame_height=907,
           min_border_left=81, min_border_top=35, min_border_right=7, min_border_bottom=50)
p.title.align = "center"
p.title.text_font = FONT
p.title.text_font_size = "16.7px"
p.title.text_font_style = "normal"
p.title.text_color = "black"
p.title.standoff = 6
p.outline_line_color = "black"
p.outline_line_width = 1.1
p.background_fill_color = "white"
p.border_fill_color = "white"

for ax, lab, tk in ((p.xaxis[0], "Sample #", x_ticks), (p.yaxis[0], "ADC Counts", y_ticks)):
    ax.ticker = FixedTicker(ticks=tk)
    ax.axis_label = lab
    ax.axis_label_text_font = FONT
    ax.axis_label_text_font_size = "13.9px"
    ax.axis_label_text_font_style = "normal"
    ax.axis_label_text_color = "black"
    ax.major_label_text_font = FONT
    ax.major_label_text_font_size = "13.9px"
    ax.major_label_text_color = "black"
    ax.major_tick_in = 0
    ax.major_tick_out = 5
    ax.major_tick_line_width = 1.1
    ax.major_tick_line_color = "black"
    ax.minor_tick_line_color = None
    ax.axis_line_color = "black"
    ax.axis_line_width = 1.1
    ax.formatter.use_scientific = False
p.yaxis[0].major_label_orientation = "horizontal"
p.xaxis[0].major_label_standoff = 4
p.xgrid[0].ticker = FixedTicker(ticks=x_ticks)
p.ygrid[0].ticker = FixedTicker(ticks=y_ticks)
for g in (p.xgrid[0], p.ygrid[0]):
    g.grid_line_color = "#b0b0b0"
    g.grid_line_width = 1.1

r = p.scatter("x", "y", source=src, marker="circle", size=5.6, fill_color="black", line_color=None)

legend = Legend(items=[LegendItem(label="Samples\n\u03bc = 6410.87, \u03c3 = 5.73", renderers=[r])],
                location="top_right", margin=7, padding=6, spacing=0,
                label_text_font=FONT, label_text_font_size="13.6px", label_text_color="black",
                border_line_color="#cccccc", border_line_alpha=0.8, background_fill_alpha=0.8,
                glyph_width=25, glyph_height=14, label_standoff=13)
p.add_layout(legend)

open("out.html", "w").write(file_html(p, INLINE))
